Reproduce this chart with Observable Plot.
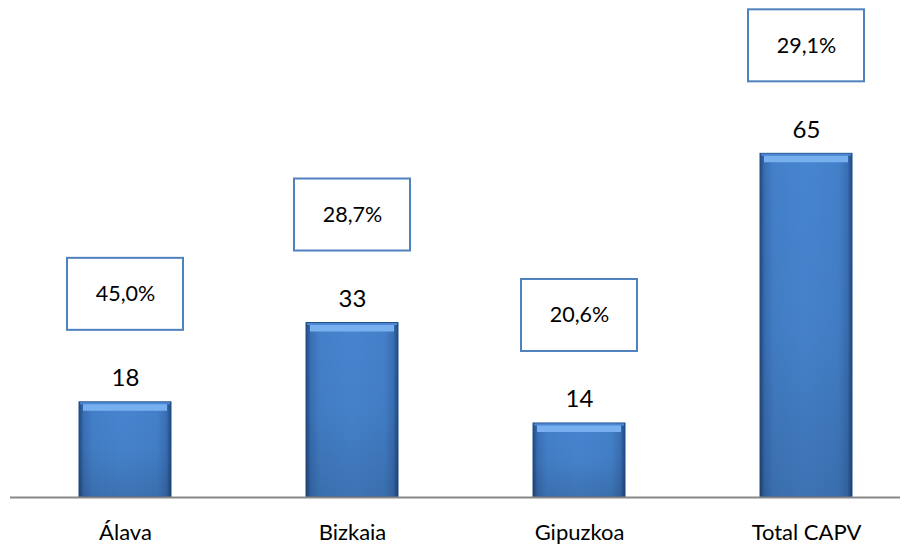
<!DOCTYPE html>
<html>
<head>
<meta charset="utf-8">
<script src="https://cdn.jsdelivr.net/npm/d3@7"></script>
<script src="https://cdn.jsdelivr.net/npm/@observablehq/plot@0.6"></script>
<style>
  html, body { margin: 0; padding: 0; background: #fff; }
  #chart { width: 909px; height: 551px; }
</style>
</head>
<body>
<div id="chart"></div>
<script>
const categories = ["Álava", "Bizkaia", "Gipuzkoa", "Total CAPV"];
const values = [18, 33, 14, 65];
const percentLabels = ["45,0%", "28,7%", "20,6%", "29,1%"];

const data = categories.map((c, i) => ({cat: c, value: values[i], pct: percentLabels[i]}));

const font = "Lato, 'Open Sans', sans-serif";

const chart = Plot.plot({
  width: 909,
  height: 551,
  marginTop: 0,
  marginBottom: 54,
  marginLeft: 10,
  marginRight: 9,
  style: {fontFamily: font, color: "#000", background: "#fff"},
  x: {domain: categories, range: [30, 900], paddingInner: 0.596, paddingOuter: 0.206, label: null},
  y: {domain: [0, 94], axis: null},
  marks: [
    Plot.axisX({tickSize: 0, tickPadding: 27, fontSize: 22, fill: "#000", label: null}),
    Plot.barY(data, {x: "cat", y: "value", fill: "url(#barGrad)", stroke: "#234f88", strokeWidth: 1}),
    Plot.barY(data, {x: "cat", y: "value", fill: "url(#barVGrad)"}),
    Plot.tickY(data, {x: "cat", y: "value", stroke: "#78b0ef", strokeWidth: 7, dy: 5, inset: 4}),
    Plot.tickY(data, {x: "cat", y: "value", stroke: "#4a86d2", strokeWidth: 2, dy: 1, inset: 1}),
    Plot.ruleY([0], {stroke: "#888", strokeWidth: 2}),
    Plot.text(data, {x: "cat", y: "value", text: d => String(d.value), dy: -24, fontSize: 24, fill: "#000"}),
    Plot.barY(data, {x: "cat", y1: "value", y2: "value", insetTop: -144, insetBottom: 72, insetLeft: -12, insetRight: -12, fill: "#fff", stroke: "#4f81bd", strokeWidth: 2}),
    Plot.text(data, {x: "cat", y: "value", text: "pct", dy: -108, fontSize: 21.5, fill: "#000"})
  ]
});

const svg = d3.select(chart);
const defs = svg.insert("defs", ":first-child");
const g1 = defs.append("linearGradient").attr("id", "barGrad").attr("x1", 0).attr("x2", 1).attr("y1", 0).attr("y2", 0);
[[0, "#1f4a80"], [0.05, "#3a6fb5"], [0.15, "#4380c9"], [0.5, "#4785d0"], [0.85, "#4380c9"], [0.95, "#3a6fb5"], [1, "#1f4a80"]]
  .forEach(([o, c]) => g1.append("stop").attr("offset", o).attr("stop-color", c));
const g2 = defs.append("linearGradient").attr("id", "barVGrad").attr("x1", 0).attr("x2", 0).attr("y1", 0).attr("y2", 1);
[[0, "#000", 0], [0.5, "#000", 0.03], [1, "#000", 0.14]]
  .forEach(([o, c, a]) => g2.append("stop").attr("offset", o).attr("stop-color", c).attr("stop-opacity", a));

svg.selectAll("g[aria-label='x-axis tick label']").style("font-size", "22px");

document.getElementById("chart").appendChild(chart);
</script>
</body>
</html>
